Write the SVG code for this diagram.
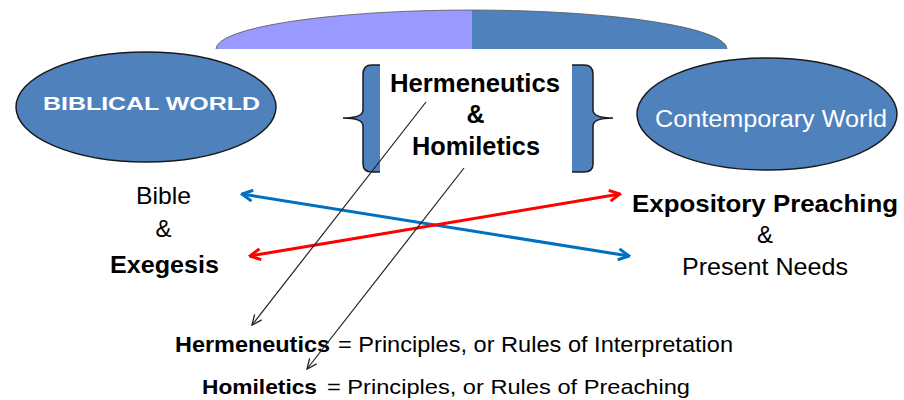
<svg xmlns="http://www.w3.org/2000/svg" width="904" height="400" viewBox="0 0 904 400">
<style>
text{font-family:"Liberation Sans",Arial,sans-serif;fill:#000;}
.b{font-weight:bold;}
.w{fill:#fff;}
.ell{fill:#4f81bd;stroke:#1a1a1a;stroke-width:1.5;}
.brf{fill:#4f81bd;stroke:none;}
.brs{fill:none;stroke:#1a1a1a;stroke-width:1.5;}
.blue{stroke:#0070c0;stroke-width:3;fill:none;marker-start:url(#ab);marker-end:url(#ab);}
.red{stroke:#ff0000;stroke-width:3;fill:none;marker-start:url(#ar);marker-end:url(#ar);}
.thin{stroke:#222;stroke-width:1.2;fill:none;marker-end:url(#ak);}
</style>
<defs>
<marker id="ab" viewBox="0 0 14 14" refX="12.5" refY="7" markerWidth="14" markerHeight="14" markerUnits="userSpaceOnUse" orient="auto-start-reverse">
<path d="M2,1.5 L12.5,7 L2,12.5" fill="none" stroke="#0070c0" stroke-width="3" stroke-linejoin="miter"/>
</marker>
<marker id="ar" viewBox="0 0 14 14" refX="12.5" refY="7" markerWidth="14" markerHeight="14" markerUnits="userSpaceOnUse" orient="auto-start-reverse">
<path d="M2,1.5 L12.5,7 L2,12.5" fill="none" stroke="#ff0000" stroke-width="3" stroke-linejoin="miter"/>
</marker>
<marker id="ak" viewBox="0 0 12 12" refX="11" refY="6" markerWidth="12" markerHeight="12" markerUnits="userSpaceOnUse" orient="auto">
<path d="M1,1.5 L11,6 L1,10.5" fill="none" stroke="#222" stroke-width="1.3"/>
</marker>
</defs>

<g id="dome">
<path d="M216,49 A255.5,39 0 0 1 471.5,10 L471.5,49 Z" fill="#9999ff"/>
<path d="M471.5,10 A255.5,39 0 0 1 727,49 L471.5,49 Z" fill="#4f81bd"/>
<path d="M216,49 A255.5,39 0 0 1 727,49" fill="none" stroke="#555" stroke-width="0.8"/>
</g>

<g id="biblical-world">
<ellipse class="ell" cx="146" cy="107" rx="130" ry="55"/>
<text class="b w" x="43" y="110" font-size="19" textLength="217" lengthAdjust="spacingAndGlyphs">BIBLICAL WORLD</text>
</g>

<g id="contemporary-world">
<ellipse class="ell" cx="767" cy="114" rx="130" ry="56"/>
<text class="w" x="655" y="127" font-size="23" textLength="232" lengthAdjust="spacingAndGlyphs">Contemporary World</text>
</g>

<g id="left-brace">
<path class="brf" d="M380,65 L372,65 Q363,65 363,74 L363,110 Q363,118 344,118 Q363,118 363,126 L363,164 Q363,172 372,172 L380,172 Z"/>
<path class="brs" d="M380,65 L372,65 Q363,65 363,74 L363,110 Q363,118 343,118 Q363,118 363,126 L363,164 Q363,172 372,172 L380,172"/>
</g>

<g id="right-brace">
<path class="brf" d="M572,65 L584,65 Q593,65 593,74 L593,110 Q593,118 612,118 Q593,118 593,126 L593,164 Q593,172 584,172 L572,172 Z"/>
<path class="brs" d="M572,65 L584,65 Q593,65 593,74 L593,110 Q593,118 613,118 Q593,118 593,126 L593,164 Q593,172 584,172 L572,172"/>
</g>

<g id="center-label">
<text class="b" x="390" y="92" font-size="25" textLength="170" lengthAdjust="spacingAndGlyphs">Hermeneutics</text>
<text class="b" x="475.5" y="123" font-size="25" text-anchor="middle">&amp;</text>
<text class="b" x="412" y="155" font-size="25" textLength="128" lengthAdjust="spacingAndGlyphs">Homiletics</text>
</g>

<g id="left-label">
<text x="136" y="204" font-size="24" textLength="55" lengthAdjust="spacingAndGlyphs">Bible</text>
<text x="163.5" y="237" font-size="24" text-anchor="middle">&amp;</text>
<text class="b" x="110" y="273" font-size="24" textLength="109" lengthAdjust="spacingAndGlyphs">Exegesis</text>
</g>

<g id="right-label">
<text class="b" x="632" y="212" font-size="24" textLength="266" lengthAdjust="spacingAndGlyphs">Expository  Preaching</text>
<text x="765" y="243" font-size="24" text-anchor="middle">&amp;</text>
<text x="682" y="275" font-size="24" textLength="166" lengthAdjust="spacingAndGlyphs">Present Needs</text>
</g>

<g id="definitions">
<text class="b" x="175" y="352" font-size="22" textLength="155" lengthAdjust="spacingAndGlyphs">Hermeneutics</text>
<text x="338" y="352" font-size="22" textLength="395" lengthAdjust="spacingAndGlyphs">= Principles, or Rules of Interpretation</text>
<text class="b" x="202" y="394" font-size="21" textLength="115" lengthAdjust="spacingAndGlyphs">Homiletics</text>
<text x="327" y="394" font-size="21" textLength="363" lengthAdjust="spacingAndGlyphs">= Principles, or Rules of Preaching</text>
</g>

<g id="connectors">
<line class="blue" x1="242" y1="194" x2="629" y2="256"/>
<line class="red" x1="250" y1="256" x2="620" y2="194"/>
<line class="thin" x1="426" y1="102" x2="252" y2="325"/>
<line class="thin" x1="464" y1="168" x2="307" y2="369"/>
</g>
</svg>
